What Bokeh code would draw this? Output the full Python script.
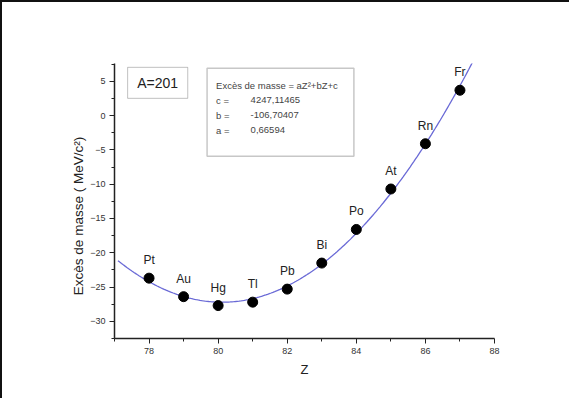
from bokeh.plotting import figure
from bokeh.models import FixedTicker, Range1d, Label, BoxAnnotation, ColumnDataSource, Title
from bokeh.core.properties import value
from bokeh.embed import file_html
from bokeh.resources import INLINE

# ---- data ----
z_values = [78, 79, 80, 81, 82, 83, 84, 85, 86, 87]
mass_excess = [-23.7, -26.4, -27.7, -27.2, -25.3, -21.5, -16.6, -10.7, -4.1, 3.7]
elements = ["Pt", "Au", "Hg", "Tl", "Pb", "Bi", "Po", "At", "Rn", "Fr"]

# fitted parabola coefficients shown in the chart
coef_a = 0.66594
coef_b = -106.70407
coef_c = 4247.11465
fit_z_start = 77.1
fit_z_end = 87.36

x_major_ticks = [78, 80, 82, 84, 86, 88]
x_minor_ticks = [77, 79, 81, 83, 85, 87]
y_major_ticks = [-30, -25, -20, -15, -10, -5, 0, 5]
y_minor_ticks = [-32.5, -27.5, -22.5, -17.5, -12.5, -7.5, -2.5, 2.5, 7.5]

FONT = "Liberation Sans"

p = figure(width=569, height=398, output_backend="svg", toolbar_location=None,
           x_range=Range1d(77, 88), y_range=Range1d(-32.5, 7.6),
           min_border_left=112, min_border_top=61, min_border_right=77, min_border_bottom=62)
p.styles = {"border-top": "2px solid #111", "border-left": "2px solid #111",
            "box-shadow": "-6px 0 0 0 #ffffff, -8px 0 0 0 #000000"}
p.outline_line_color = None
p.xgrid.visible = False
p.ygrid.visible = False
p.background_fill_color = "white"
p.border_fill_color = "white"

# fit curve
n = 200
zs = [fit_z_start + (fit_z_end - fit_z_start) * i / (n - 1) for i in range(n)]
fit = [coef_a * z * z + coef_b * z + coef_c for z in zs]
p.line(zs, fit, line_color="#6a6ad6", line_width=1.3)

src = ColumnDataSource(dict(z=z_values, m=mass_excess, el=elements))
p.scatter("z", "m", source=src, size=10, color="black")
p.text("z", "m", text="el", source=src, text_align="center", text_baseline="middle",
       y_offset=-18, text_font=value(FONT), text_font_size="12px", text_color="#222222")

# axes
for ax in (p.xaxis[0], p.yaxis[0]):
    ax.axis_line_width = 1.5
    ax.axis_line_color = "#222222"
    ax.major_tick_in = 0
    ax.major_tick_out = 5
    ax.minor_tick_in = 0
    ax.minor_tick_out = 3
    ax.major_tick_line_color = "#222222"
    ax.minor_tick_line_color = "#222222"
    ax.major_label_text_font = FONT
    ax.major_label_text_font_size = "9px"
    ax.major_label_text_color = "#333333"
    ax.axis_label_text_font = FONT
    ax.axis_label_text_font_size = "13px"
    ax.axis_label_text_font_style = "normal"
    ax.axis_label_text_color = "#222222"

p.xaxis[0].ticker = FixedTicker(ticks=x_major_ticks, minor_ticks=x_minor_ticks)
p.yaxis[0].ticker = FixedTicker(ticks=y_major_ticks, minor_ticks=y_minor_ticks)
p.xaxis[0].axis_label = "Z"
p.xaxis[0].major_label_standoff = 4
p.yaxis[0].major_label_standoff = 4
p.xaxis[0].axis_label_standoff = 5

# y axis title (sits a little below the frame centre, as in the original;
# trailing no-break spaces push the visible text downwards)
p.add_layout(Title(text="Excès de masse  ( MeV/c²)" + "\u00a0" * 7, align="center",
                   standoff=4, text_font=FONT, text_font_size="13.5px",
                   text_font_style="normal", text_color="#222222"), "left")

# A=201 box
p.add_layout(BoxAnnotation(left=77.38, right=79.12, top=7.04, bottom=2.52,
                           fill_color="white", fill_alpha=1, line_color="#333333", line_width=1))
p.add_layout(Label(x=78.25, y=4.75, text="A=201", text_align="center", text_baseline="middle",
                   text_font=FONT, text_font_size="14px", text_color="#222222"))

# equation box
p.add_layout(BoxAnnotation(left=79.68, right=83.93, top=6.9, bottom=-5.94,
                           fill_color="white", fill_alpha=1, line_color="#444444", line_width=1.5))
eq_lines = [("Excès de masse = aZ²+bZ+c", ""), ("c  =", "4247,11465"),
            ("b  =", "-106,70407"), ("a  =", "0,66594")]
eq_y = [4.42, 2.23, 0.04, -2.15]
for (lab, val), yy in zip(eq_lines, eq_y):
    p.add_layout(Label(x=79.94, y=yy, text=lab, text_align="left", text_baseline="middle",
                       text_font=FONT, text_font_size="9.5px", text_color="#444444"))
    if val:
        p.add_layout(Label(x=80.94, y=yy, text=val, text_align="left", text_baseline="middle",
                           text_font=FONT, text_font_size="9.5px", text_color="#444444"))

open("out.html", "w").write(file_html(p, INLINE))
